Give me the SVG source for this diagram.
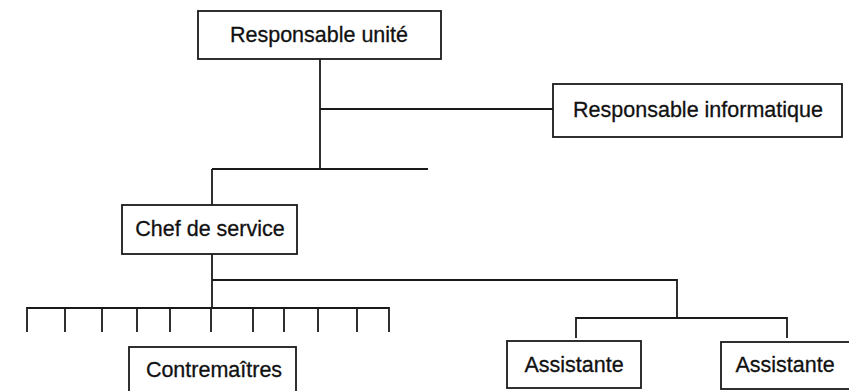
<svg xmlns="http://www.w3.org/2000/svg" width="849" height="391" viewBox="0 0 849 391">
<style>
.box{fill:#fff;stroke:#1a1a1a;stroke-width:1.8}
.lbl{font-family:"Liberation Sans",Arial,sans-serif;font-size:21.5px;fill:#111;stroke:#111;stroke-width:0.3;text-anchor:middle}
.ln{fill:none;stroke:#1a1a1a;stroke-width:1.8}
</style>
<rect width="849" height="391" fill="#fff"/>
<g id="connectors" class="ln">
<path d="M320,59 V169"/>
<path d="M320,109 H553"/>
<path d="M212,169 H428"/>
<path d="M212,169 V205"/>
<path d="M212,254 V308"/>
<path d="M212,280 H677 V318"/>
<path d="M576,338 V318 H787 V338"/>
<path d="M27,332 V308 H389 V332"/>
<path d="M65,308 V332 M102,308 V332 M137,308 V332 M170,308 V332 M211,308 V332 M253,308 V332 M284,308 V332 M318,308 V332 M357,308 V332"/>
</g>
<g id="responsable-unite">
<rect class="box" x="198" y="11" width="243" height="48"/>
<text class="lbl" x="319" y="42">Responsable unité</text>
</g>
<g id="responsable-informatique">
<rect class="box" x="553" y="84" width="289" height="53"/>
<text class="lbl" x="698" y="117">Responsable informatique</text>
</g>
<g id="chef-de-service">
<rect class="box" x="122" y="205" width="175" height="49"/>
<text class="lbl" x="210" y="236">Chef de service</text>
</g>
<g id="contremaitres">
<rect class="box" x="129" y="347" width="167" height="60"/>
<text class="lbl" x="214" y="377">Contremaîtres</text>
</g>
<g id="assistante-1">
<rect class="box" x="507" y="341" width="134" height="47"/>
<text class="lbl" x="574" y="372">Assistante</text>
</g>
<g id="assistante-2">
<rect class="box" x="721" y="342" width="140" height="47"/>
<text class="lbl" x="785" y="372">Assistante</text>
</g>
</svg>
